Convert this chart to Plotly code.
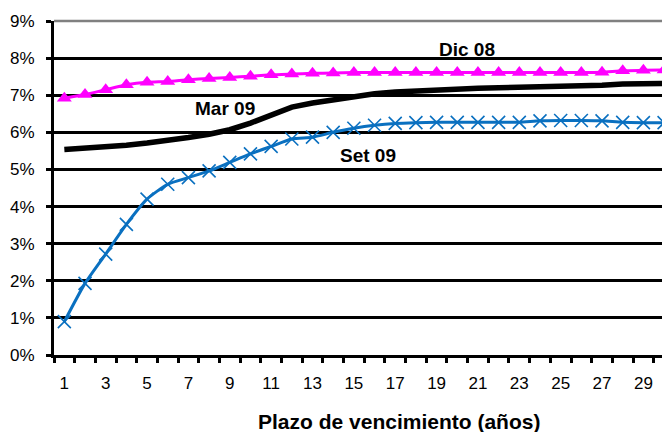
import plotly.graph_objects as go

# Data (percent)
plazos = list(range(1, 31))
dic08 = [6.92, 7.02, 7.15, 7.28, 7.35, 7.37, 7.42, 7.45, 7.48, 7.51,
         7.55, 7.57, 7.59, 7.60, 7.61, 7.61, 7.61, 7.61, 7.61, 7.61,
         7.61, 7.61, 7.61, 7.61, 7.61, 7.61, 7.62, 7.66, 7.67, 7.68]
mar09 = [5.54, 5.57, 5.61, 5.65, 5.71, 5.77, 5.86, 5.95, 6.07, 6.25,
         6.45, 6.68, 6.79, 6.88, 6.96, 7.04, 7.09, 7.12, 7.15, 7.17,
         7.19, 7.20, 7.21, 7.22, 7.23, 7.24, 7.27, 7.30, 7.31, 7.32]
set09 = [0.90, 1.93, 2.72, 3.52, 4.20, 4.60, 4.78, 4.96, 5.19, 5.42,
         5.62, 5.82, 5.87, 6.00, 6.11, 6.19, 6.24, 6.26, 6.27, 6.27,
         6.27, 6.27, 6.27, 6.31, 6.32, 6.32, 6.31, 6.27, 6.26, 6.26]

y_ticks = [0, 0.01, 0.02, 0.03, 0.04, 0.05, 0.06, 0.07, 0.08, 0.09]
x_ticks = list(range(1, 30, 2))
x_title = "Plazo de vencimiento (años)"
labels = {"Dic 08": (20.49, 0.0824), "Mar 09": (8.76, 0.0663), "Set 09": (15.70, 0.0537)}

FONT = "Arial, Liberation Sans, sans-serif"
BLUE = "#0A70C0"
MAGENTA = "#FF00FF"

fig = go.Figure()
fig.add_trace(go.Scatter(
    x=plazos, y=[v / 100 for v in dic08], mode="lines+markers", name="Dic 08",
    line=dict(color=MAGENTA, width=3, shape="spline", smoothing=0.5),
    marker=dict(symbol="triangle-up", size=13, color=MAGENTA),
))
fig.add_trace(go.Scatter(
    x=plazos, y=[v / 100 for v in mar09], mode="lines", name="Mar 09",
    line=dict(color="black", width=5.5),
))
fig.add_trace(go.Scatter(
    x=plazos, y=[v / 100 for v in set09], mode="lines+markers", name="Set 09",
    line=dict(color=BLUE, width=3, shape="spline", smoothing=0.6),
    marker=dict(symbol="x-thin", size=13, color=BLUE, line=dict(color=BLUE, width=1.6)),
))

for txt, (lx, ly) in labels.items():
    fig.add_annotation(x=lx, y=ly, xref="x", yref="y", text=f"<b>{txt}</b>",
                       showarrow=False, font=dict(family=FONT, size=19, color="black"))

fig.add_annotation(x=0.568, y=-0.2, xref="paper", yref="paper", text=f"<b>{x_title}</b>",
                   showarrow=False, yanchor="middle", xanchor="center",
                   font=dict(family=FONT, size=21, color="black"))

fig.add_shape(type="line", xref="paper", yref="paper", x0=0, x1=1, y0=1, y1=1,
              line=dict(color="#808080", width=2.5), layer="below")

fig.update_layout(
    width=662, height=432,
    margin=dict(l=54, r=0, t=21, b=77),
    paper_bgcolor="white", plot_bgcolor="white",
    showlegend=False,
    font=dict(family=FONT, color="black"),
    xaxis=dict(
        range=[0.5, 29.9], tickvals=x_ticks, ticks="",
        showline=True, linewidth=3, linecolor="black",
        showgrid=False, zeroline=False,
        tickfont=dict(size=17, family=FONT, color="black"),
        ticklabelstandoff=11,
        minor=dict(tick0=0.5, dtick=1, ticks="outside", ticklen=5, tickwidth=3,
                   tickcolor="black", showgrid=False),
    ),
    yaxis=dict(
        range=[0, 0.09], tickvals=y_ticks, tickformat=".0%",
        ticks="outside", ticklen=5, tickwidth=3, tickcolor="black",
        showline=True, linewidth=3, linecolor="black",
        showgrid=True, gridcolor="black", gridwidth=2.5,
        zeroline=False,
        tickfont=dict(size=17, family=FONT, color="black"),
        ticklabelstandoff=8,
    ),
)

fig.write_html("out.html")
